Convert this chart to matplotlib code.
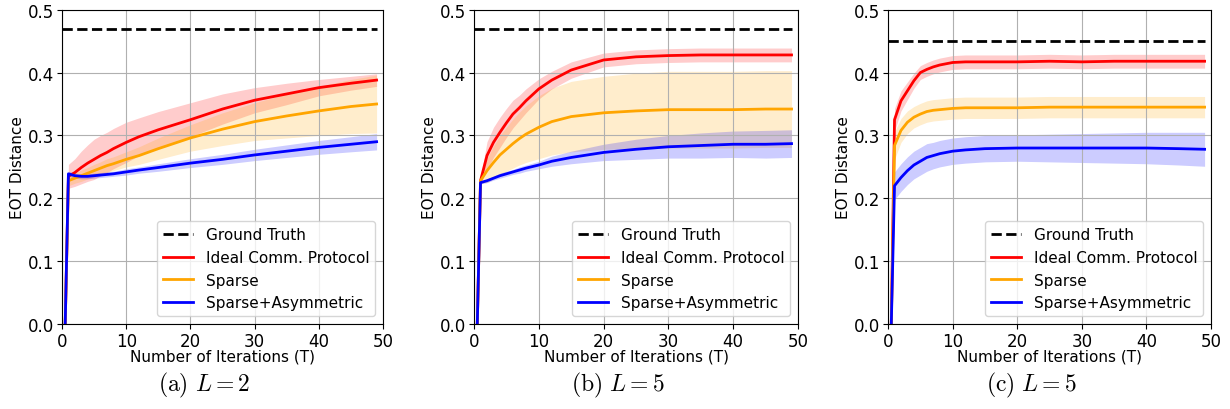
import numpy as np
import matplotlib
matplotlib.use('Agg')
import matplotlib.pyplot as plt

plt.rcParams['mathtext.fontset'] = 'cm'

# iteration points
iters = [0.5, 1, 2, 3, 4, 5, 6, 7, 8, 10, 12, 15, 20, 25, 30, 35, 40, 45, 49]
gt_iters = np.arange(50)

# (a) L = 2
gt_a = 0.47
ideal_a = [0, 0.235, 0.241, 0.249, 0.256, 0.262, 0.268, 0.273, 0.279, 0.289, 0.298, 0.309, 0.325, 0.342, 0.356, 0.366, 0.376, 0.383, 0.388]
ideal_a_std = [0, 0.019, 0.022, 0.026, 0.029, 0.032, 0.032, 0.032, 0.032, 0.032, 0.030, 0.029, 0.027, 0.024, 0.020, 0.017, 0.013, 0.011, 0.010]
sparse_a = [0, 0.228, 0.232, 0.236, 0.240, 0.244, 0.248, 0.252, 0.255, 0.262, 0.268, 0.279, 0.296, 0.310, 0.322, 0.331, 0.339, 0.346, 0.350]
sparse_a_std = [0, 0.008, 0.008, 0.009, 0.009, 0.010, 0.010, 0.011, 0.011, 0.012, 0.014, 0.017, 0.021, 0.026, 0.030, 0.035, 0.039, 0.043, 0.046]
asym_a = [0, 0.239, 0.236, 0.235, 0.235, 0.236, 0.237, 0.238, 0.239, 0.242, 0.245, 0.249, 0.256, 0.262, 0.269, 0.275, 0.281, 0.286, 0.290]
asym_a_std = [0, 0.004, 0.004, 0.004, 0.004, 0.004, 0.004, 0.004, 0.004, 0.005, 0.005, 0.006, 0.007, 0.008, 0.009, 0.010, 0.011, 0.012, 0.013]

# (b) L = 5
gt_b = 0.47
ideal_b = [0, 0.228, 0.268, 0.289, 0.305, 0.320, 0.334, 0.344, 0.355, 0.374, 0.388, 0.404, 0.420, 0.425, 0.427, 0.428, 0.428, 0.428, 0.428]
ideal_b_std = [0, 0.005, 0.022, 0.024, 0.024, 0.023, 0.022, 0.020, 0.019, 0.016, 0.014, 0.013, 0.011, 0.011, 0.011, 0.011, 0.011, 0.011, 0.011]
sparse_b = [0, 0.228, 0.244, 0.257, 0.269, 0.278, 0.287, 0.295, 0.302, 0.313, 0.322, 0.330, 0.336, 0.339, 0.341, 0.341, 0.341, 0.342, 0.342]
sparse_b_std = [0, 0.004, 0.019, 0.026, 0.031, 0.035, 0.039, 0.042, 0.045, 0.050, 0.053, 0.056, 0.058, 0.060, 0.061, 0.061, 0.061, 0.061, 0.061]
asym_b = [0, 0.225, 0.228, 0.232, 0.236, 0.239, 0.242, 0.245, 0.248, 0.253, 0.259, 0.265, 0.273, 0.278, 0.282, 0.284, 0.286, 0.286, 0.287]
asym_b_std = [0, 0.002, 0.003, 0.003, 0.004, 0.004, 0.004, 0.005, 0.005, 0.006, 0.008, 0.010, 0.013, 0.016, 0.018, 0.020, 0.021, 0.022, 0.022]

# (c) L = 5
gt_c = 0.45
ideal_c = [0, 0.325, 0.355, 0.371, 0.387, 0.400, 0.405, 0.409, 0.412, 0.416, 0.417, 0.417, 0.417, 0.418, 0.417, 0.418, 0.418, 0.418, 0.418]
ideal_c_std = [0, 0.018, 0.016, 0.014, 0.012, 0.011, 0.011, 0.011, 0.011, 0.011, 0.011, 0.011, 0.011, 0.011, 0.011, 0.011, 0.011, 0.011, 0.011]
sparse_c = [0, 0.284, 0.308, 0.321, 0.329, 0.334, 0.338, 0.340, 0.341, 0.343, 0.344, 0.344, 0.344, 0.345, 0.345, 0.345, 0.345, 0.345, 0.345]
sparse_c_std = [0, 0.022, 0.019, 0.018, 0.017, 0.017, 0.017, 0.017, 0.017, 0.017, 0.017, 0.017, 0.017, 0.017, 0.017, 0.017, 0.017, 0.017, 0.017]
asym_c = [0, 0.220, 0.233, 0.244, 0.253, 0.259, 0.265, 0.268, 0.271, 0.275, 0.277, 0.279, 0.280, 0.280, 0.280, 0.280, 0.280, 0.279, 0.278]
asym_c_std = [0, 0.022, 0.022, 0.022, 0.022, 0.022, 0.022, 0.021, 0.021, 0.021, 0.021, 0.021, 0.021, 0.022, 0.023, 0.024, 0.025, 0.026, 0.027]

captions = [r'$\mathrm{(a)}\ L = 2$', r'$\mathrm{(b)}\ L = 5$', r'$\mathrm{(c)}\ L = 5$']

panels = [
    (gt_a, [(ideal_a, ideal_a_std), (sparse_a, sparse_a_std), (asym_a, asym_a_std)]),
    (gt_b, [(ideal_b, ideal_b_std), (sparse_b, sparse_b_std), (asym_b, asym_b_std)]),
    (gt_c, [(ideal_c, ideal_c_std), (sparse_c, sparse_c_std), (asym_c, asym_c_std)]),
]
names = ['Ideal Comm. Protocol', 'Sparse', 'Sparse+Asymmetric']
colors = ['red', 'orange', 'blue']

fig = plt.figure(figsize=(12.3, 4.1), dpi=100)
lefts = [0.0504, 0.3854, 0.722]
widths = [0.261, 0.2634, 0.2626]

for i, (gt, series) in enumerate(panels):
    ax = fig.add_axes([lefts[i], 0.207, widths[i], 0.767])
    ax.plot(gt_iters, np.full(len(gt_iters), gt), color='black', ls='--', lw=2, label='Ground Truth')
    for (m, s), name, c in zip(series, names, colors):
        m = np.array(m)
        s = np.array(s)
        ax.plot(iters, m, color=c, lw=2, label=name)
        ax.fill_between(iters, m - s, m + s, color=c, alpha=0.2, lw=0)
    ax.set_xlim(0, 50)
    ax.set_ylim(0, 0.5)
    ax.set_xticks([0, 10, 20, 30, 40, 50])
    ax.set_yticks([0, 0.1, 0.2, 0.3, 0.4, 0.5])
    ax.tick_params(labelsize=12, pad=2)
    ax.grid(True)
    ax.set_xlabel('Number of Iterations (T)', fontsize=11, labelpad=-1)
    ax.set_ylabel('EOT Distance', fontsize=11, labelpad=2)
    ax.legend(loc='lower right', fontsize=11)
    cx = lefts[i] + widths[i] / 2 - 0.015
    fig.text(cx, 0.06, captions[i], ha='center', va='center', fontsize=17)

plt.savefig('out.png', dpi=100)
